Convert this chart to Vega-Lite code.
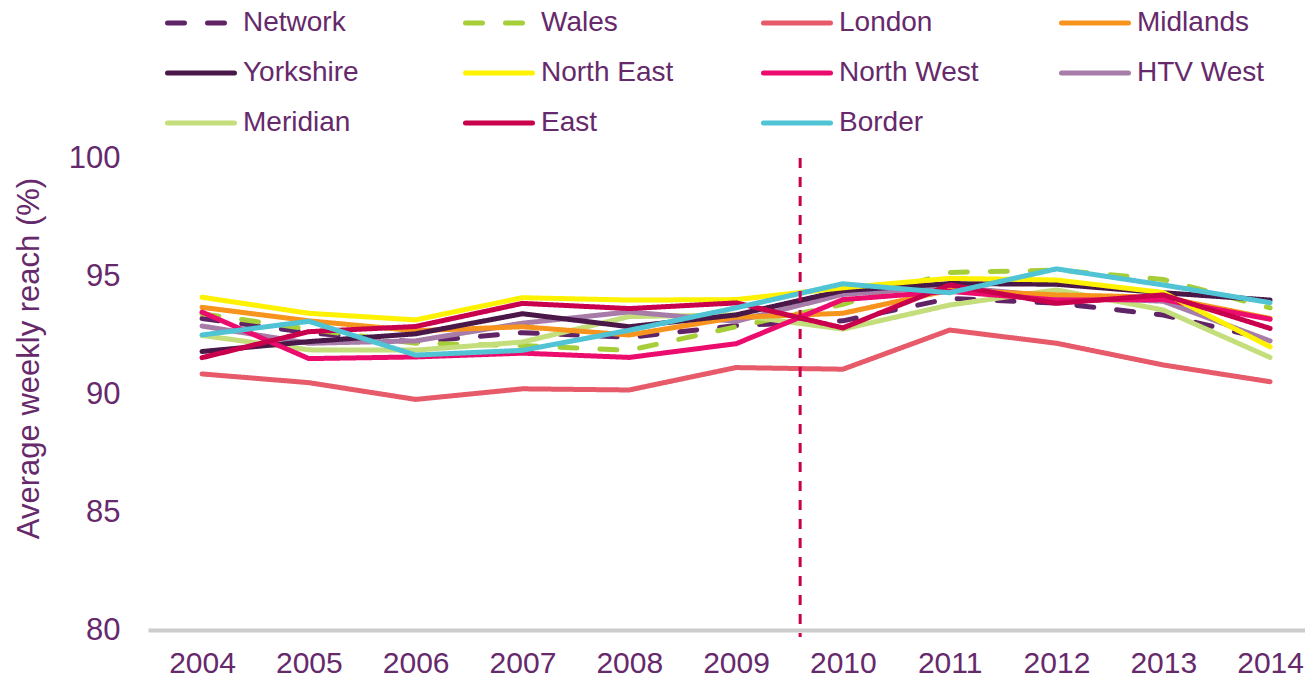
{
  "$schema": "https://vega.github.io/schema/vega-lite/v6.json",
  "width": 1157,
  "height": 472,
  "autosize": {"type": "none"},
  "padding": {"left": 148, "top": 158, "right": 0, "bottom": 53},
  "background": "white",
  "config": {"view": {"stroke": null}, "font": "Liberation Sans"},
  "datasets": {
    "series": [
      {"year": 2004, "region": "London", "reach": 90.85},
      {"year": 2005, "region": "London", "reach": 90.48},
      {"year": 2006, "region": "London", "reach": 89.77},
      {"year": 2007, "region": "London", "reach": 90.22},
      {"year": 2008, "region": "London", "reach": 90.17},
      {"year": 2009, "region": "London", "reach": 91.12},
      {"year": 2010, "region": "London", "reach": 91.05},
      {"year": 2011, "region": "London", "reach": 92.71},
      {"year": 2012, "region": "London", "reach": 92.15},
      {"year": 2013, "region": "London", "reach": 91.23},
      {"year": 2014, "region": "London", "reach": 90.52},
      {"year": 2004, "region": "Network", "reach": 93.2},
      {"year": 2005, "region": "Network", "reach": 92.6},
      {"year": 2006, "region": "Network", "reach": 92.2},
      {"year": 2007, "region": "Network", "reach": 92.6},
      {"year": 2008, "region": "Network", "reach": 92.4},
      {"year": 2009, "region": "Network", "reach": 92.9},
      {"year": 2010, "region": "Network", "reach": 93.1},
      {"year": 2011, "region": "Network", "reach": 94.05},
      {"year": 2012, "region": "Network", "reach": 93.85},
      {"year": 2013, "region": "Network", "reach": 93.35},
      {"year": 2014, "region": "Network", "reach": 92.3},
      {"year": 2004, "region": "Wales", "reach": 93.4},
      {"year": 2005, "region": "Wales", "reach": 92.75},
      {"year": 2006, "region": "Wales", "reach": 92.15},
      {"year": 2007, "region": "Wales", "reach": 92.05},
      {"year": 2008, "region": "Wales", "reach": 91.85},
      {"year": 2009, "region": "Wales", "reach": 92.85},
      {"year": 2010, "region": "Wales", "reach": 93.8},
      {"year": 2011, "region": "Wales", "reach": 95.15},
      {"year": 2012, "region": "Wales", "reach": 95.25},
      {"year": 2013, "region": "Wales", "reach": 94.85},
      {"year": 2014, "region": "Wales", "reach": 93.65},
      {"year": 2004, "region": "Meridian", "reach": 92.48},
      {"year": 2005, "region": "Meridian", "reach": 91.87},
      {"year": 2006, "region": "Meridian", "reach": 91.86},
      {"year": 2007, "region": "Meridian", "reach": 92.2},
      {"year": 2008, "region": "Meridian", "reach": 93.28},
      {"year": 2009, "region": "Meridian", "reach": 93.35},
      {"year": 2010, "region": "Meridian", "reach": 92.75},
      {"year": 2011, "region": "Meridian", "reach": 93.77},
      {"year": 2012, "region": "Meridian", "reach": 94.41},
      {"year": 2013, "region": "Meridian", "reach": 93.56},
      {"year": 2014, "region": "Meridian", "reach": 91.55},
      {"year": 2004, "region": "HTV West", "reach": 92.88},
      {"year": 2005, "region": "HTV West", "reach": 92.15},
      {"year": 2006, "region": "HTV West", "reach": 92.25},
      {"year": 2007, "region": "HTV West", "reach": 93.0},
      {"year": 2008, "region": "HTV West", "reach": 93.48},
      {"year": 2009, "region": "HTV West", "reach": 93.08},
      {"year": 2010, "region": "HTV West", "reach": 94.22},
      {"year": 2011, "region": "HTV West", "reach": 94.55},
      {"year": 2012, "region": "HTV West", "reach": 94.12},
      {"year": 2013, "region": "HTV West", "reach": 93.93},
      {"year": 2014, "region": "HTV West", "reach": 92.25},
      {"year": 2004, "region": "Midlands", "reach": 93.67},
      {"year": 2005, "region": "Midlands", "reach": 93.1},
      {"year": 2006, "region": "Midlands", "reach": 92.68},
      {"year": 2007, "region": "Midlands", "reach": 92.85},
      {"year": 2008, "region": "Midlands", "reach": 92.5},
      {"year": 2009, "region": "Midlands", "reach": 93.25},
      {"year": 2010, "region": "Midlands", "reach": 93.42},
      {"year": 2011, "region": "Midlands", "reach": 94.4},
      {"year": 2012, "region": "Midlands", "reach": 94.2},
      {"year": 2013, "region": "Midlands", "reach": 94.1},
      {"year": 2014, "region": "Midlands", "reach": 93.2},
      {"year": 2004, "region": "Yorkshire", "reach": 91.8},
      {"year": 2005, "region": "Yorkshire", "reach": 92.22},
      {"year": 2006, "region": "Yorkshire", "reach": 92.55},
      {"year": 2007, "region": "Yorkshire", "reach": 93.4},
      {"year": 2008, "region": "Yorkshire", "reach": 92.85},
      {"year": 2009, "region": "Yorkshire", "reach": 93.35},
      {"year": 2010, "region": "Yorkshire", "reach": 94.38},
      {"year": 2011, "region": "Yorkshire", "reach": 94.68},
      {"year": 2012, "region": "Yorkshire", "reach": 94.65},
      {"year": 2013, "region": "Yorkshire", "reach": 94.29},
      {"year": 2014, "region": "Yorkshire", "reach": 93.98},
      {"year": 2004, "region": "North West", "reach": 93.47},
      {"year": 2005, "region": "North West", "reach": 91.5},
      {"year": 2006, "region": "North West", "reach": 91.57},
      {"year": 2007, "region": "North West", "reach": 91.73},
      {"year": 2008, "region": "North West", "reach": 91.55},
      {"year": 2009, "region": "North West", "reach": 92.13},
      {"year": 2010, "region": "North West", "reach": 94.0},
      {"year": 2011, "region": "North West", "reach": 94.35},
      {"year": 2012, "region": "North West", "reach": 93.98},
      {"year": 2013, "region": "North West", "reach": 94.0},
      {"year": 2014, "region": "North West", "reach": 93.17},
      {"year": 2004, "region": "North East", "reach": 94.1},
      {"year": 2005, "region": "North East", "reach": 93.42},
      {"year": 2006, "region": "North East", "reach": 93.14},
      {"year": 2007, "region": "North East", "reach": 94.08},
      {"year": 2008, "region": "North East", "reach": 93.98},
      {"year": 2009, "region": "North East", "reach": 94.0},
      {"year": 2010, "region": "North East", "reach": 94.5},
      {"year": 2011, "region": "North East", "reach": 94.9},
      {"year": 2012, "region": "North East", "reach": 94.83},
      {"year": 2013, "region": "North East", "reach": 94.3},
      {"year": 2014, "region": "North East", "reach": 92.0},
      {"year": 2004, "region": "East", "reach": 91.54},
      {"year": 2005, "region": "East", "reach": 92.64},
      {"year": 2006, "region": "East", "reach": 92.86},
      {"year": 2007, "region": "East", "reach": 93.84},
      {"year": 2008, "region": "East", "reach": 93.62},
      {"year": 2009, "region": "East", "reach": 93.86},
      {"year": 2010, "region": "East", "reach": 92.8},
      {"year": 2011, "region": "East", "reach": 94.62},
      {"year": 2012, "region": "East", "reach": 93.84},
      {"year": 2013, "region": "East", "reach": 94.2},
      {"year": 2014, "region": "East", "reach": 92.78},
      {"year": 2004, "region": "Border", "reach": 92.5},
      {"year": 2005, "region": "Border", "reach": 93.08},
      {"year": 2006, "region": "Border", "reach": 91.65},
      {"year": 2007, "region": "Border", "reach": 91.85},
      {"year": 2008, "region": "Border", "reach": 92.7},
      {"year": 2009, "region": "Border", "reach": 93.65},
      {"year": 2010, "region": "Border", "reach": 94.67},
      {"year": 2011, "region": "Border", "reach": 94.29},
      {"year": 2012, "region": "Border", "reach": 95.3},
      {"year": 2013, "region": "Border", "reach": 94.62},
      {"year": 2014, "region": "Border", "reach": 93.87}
    ],
    "divider": [{"x": 2009.6}]
  },
  "layer": [
    {
      "data": {"name": "series"},
      "mark": {"type": "line", "strokeWidth": 5, "strokeCap": "round", "strokeJoin": "round"},
      "encoding": {
        "x": {
          "field": "year",
          "type": "quantitative",
          "scale": {"domain": [2003.494, 2014.327], "nice": false, "zero": false},
          "axis": {
            "values": [2004, 2005, 2006, 2007, 2008, 2009, 2010, 2011, 2012, 2013, 2014],
            "format": "d",
            "title": null,
            "grid": false,
            "ticks": false,
            "domainColor": "#cccccc",
            "domainWidth": 4,
            "labelFontSize": 30,
            "labelColor": "#66296b",
            "labelPadding": 18,
            "labelFont": "Liberation Sans",
            "labelFlush": false
          }
        },
        "y": {
          "field": "reach",
          "type": "quantitative",
          "scale": {"domain": [80, 100], "nice": false, "zero": false},
          "axis": {
            "values": [80, 85, 90, 95, 100],
            "grid": false,
            "ticks": false,
            "domain": false,
            "labelFontSize": 31,
            "labelColor": "#66296b",
            "labelPadding": 28,
            "labelFont": "Liberation Sans",
            "title": "Average weekly reach (%)",
            "titleFont": "Liberation Sans",
            "titleFontSize": 31,
            "titleFontWeight": "normal",
            "titleColor": "#66296b",
            "titleX": -110,
            "titleY": 200,
            "titleBaseline": "alphabetic"
          }
        },
        "color": {
          "field": "region",
          "type": "nominal",
          "scale": {
            "domain": ["Network", "Wales", "London", "Midlands", "Yorkshire", "North East", "North West", "HTV West", "Meridian", "East", "Border"],
            "range": ["#5f2366", "#a6ce39", "#e65a6a", "#f7941d", "#4a1848", "#fff200", "#ec0c6e", "#a77ca9", "#c3de7b", "#c9004b", "#50c3d4"]
          },
          "legend": {
            "orient": "none",
            "legendX": 17,
            "legendY": -171,
            "direction": "horizontal",
            "columns": 4,
            "title": null,
            "symbolType": "stroke",
            "symbolSize": 4489,
            "symbolStrokeWidth": 5,
            "labelFontSize": 28,
            "labelFont": "Liberation Sans",
            "labelColor": "#66296b",
            "labelOffset": 6,
            "columnPadding": 72,
            "rowPadding": -17,
            "gridAlign": "all",
            "padding": 0,
            "labelLimit": 300,
            "encode": {"symbols": {"update": {"strokeCap": {"value": "round"}}}}
          }
        },
        "strokeDash": {
          "field": "region",
          "type": "nominal",
          "scale": {
            "domain": ["Network", "Wales", "London", "Midlands", "Yorkshire", "North East", "North West", "HTV West", "Meridian", "East", "Border"],
            "range": [[17, 23], [17, 23], [1, 0], [1, 0], [1, 0], [1, 0], [1, 0], [1, 0], [1, 0], [1, 0], [1, 0]]
          },
          "legend": {
            "orient": "none",
            "legendX": 17,
            "legendY": -171,
            "direction": "horizontal",
            "columns": 4,
            "title": null,
            "symbolType": "stroke",
            "symbolSize": 4489,
            "symbolStrokeWidth": 5,
            "labelFontSize": 28,
            "labelFont": "Liberation Sans",
            "labelColor": "#66296b",
            "labelOffset": 6,
            "columnPadding": 72,
            "rowPadding": -17,
            "gridAlign": "all",
            "padding": 0,
            "labelLimit": 300,
            "encode": {"symbols": {"update": {"strokeCap": {"value": "round"}}}}
          }
        }
      }
    },
    {
      "data": {"name": "divider"},
      "mark": {"type": "rule", "color": "#c9004b", "strokeWidth": 3, "strokeDash": [10, 9]},
      "encoding": {
        "x": {"field": "x", "type": "quantitative"},
        "y": {"datum": 100},
        "y2": {"datum": 79.7}
      }
    }
  ]
}
